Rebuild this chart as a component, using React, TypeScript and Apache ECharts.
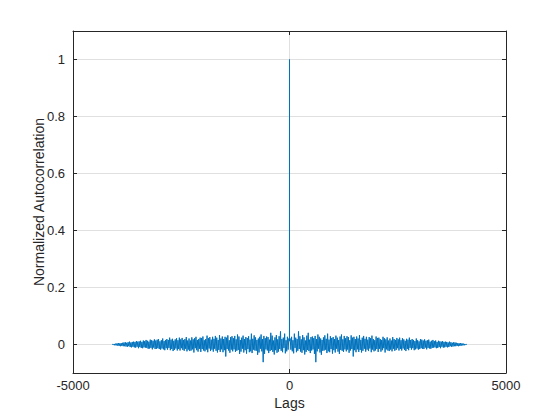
import React, { useEffect, useRef } from "react";
import * as echarts from "echarts";

// Lag step between stored samples (positive lags: step, 2*step, ...)
const lagStep = 16;
// Normalized autocorrelation at lag 0 and at lag 1
const peakValue = 1;
const lagOneValue = 0.012;
// Values read for positive lags (the autocorrelation is symmetric, negative lags mirror these)
const positiveLagValues: number[] = [
  0.021, -0.018, 0.027, -0.024, 0.015, -0.031, 0.038, -0.012, 0.024, -0.027, 0.019, -0.022, 0.046, -0.016, 0.029, -0.025,
  0.018, -0.029, 0.033, -0.02, 0.025, -0.035, 0.014, -0.026, 0.031, -0.019, 0.041, -0.023, 0.017, -0.03, 0.026, -0.021,
  0.028, -0.017, 0.022, -0.033, 0.03, -0.062, 0.019, -0.024, 0.035, -0.015, 0.027, -0.028, 0.021, -0.036, 0.016, -0.022,
  0.025, -0.021, 0.032, -0.018, 0.02, -0.03, 0.038, -0.024, 0.017, -0.027, 0.029, -0.016, 0.023, -0.032, 0.026, -0.02,
  0.019, -0.028, 0.031, -0.015, 0.024, -0.025, 0.016, -0.033, 0.028, -0.019, 0.035, -0.022, 0.018, -0.026, 0.03, -0.017,
  0.022, -0.024, 0.029, -0.018, 0.026, -0.029, 0.015, -0.021, 0.032, -0.016, 0.024, -0.042, 0.027, -0.02, 0.019, -0.027,
  0.028, -0.017, 0.021, -0.026, 0.033, -0.019, 0.016, -0.028, 0.024, -0.022, 0.03, -0.015, 0.02, -0.025, 0.027, -0.018,
  0.017, -0.023, 0.026, -0.014, 0.022, -0.027, 0.031, -0.018, 0.019, -0.024, 0.015, -0.021, 0.028, -0.016, 0.023, -0.026,
  0.024, -0.015, 0.019, -0.025, 0.016, -0.02, 0.027, -0.013, 0.022, -0.028, 0.018, -0.017, 0.025, -0.021, 0.014, -0.023,
  0.021, -0.018, 0.014, -0.024, 0.026, -0.015, 0.019, -0.022, 0.016, -0.019, 0.023, -0.013, 0.018, -0.021, 0.024, -0.016,
  0.015, -0.021, 0.022, -0.014, 0.018, -0.019, 0.013, -0.023, 0.02, -0.016, 0.017, -0.02, 0.024, -0.012, 0.016, -0.018,
  0.019, -0.013, 0.016, -0.02, 0.012, -0.017, 0.021, -0.014, 0.015, -0.018, 0.011, -0.016, 0.019, -0.013, 0.017, -0.015,
  0.014, -0.016, 0.018, -0.011, 0.013, -0.017, 0.015, -0.012, 0.017, -0.014, 0.01, -0.015, 0.013, -0.012, 0.016, -0.011,
  0.012, -0.01, 0.014, -0.013, 0.009, -0.012, 0.013, -0.009, 0.011, -0.013, 0.01, -0.008, 0.012, -0.011, 0.009, -0.01,
  0.01, -0.008, 0.009, -0.01, 0.007, -0.009, 0.01, -0.006, 0.008, -0.008, 0.006, -0.007, 0.008, -0.006, 0.007, -0.006,
  0.006, -0.005, 0.005, -0.006, 0.004, -0.005, 0.005, -0.004, 0.004, -0.003, 0.003, -0.003, 0.002, -0.002, 0.001, 0.0,
];

const xTicks = { min: -5000, max: 5000, interval: 5000 };
const yRange = { min: -0.1, max: 1.1, step: 0.2 };
const xName = "Lags";
const yName = "Normalized Autocorrelation";

const FONT = "'Liberation Sans', Arial, Helvetica, sans-serif";
const TEXT = "#262626";
const GRID = "#e0e0e0";
const LINE = "#0072BD";

function buildSeries(): [number, number][] {
  const out: [number, number][] = [];
  for (let j = positiveLagValues.length - 1; j >= 0; j--) {
    out.push([-(j + 1) * lagStep, positiveLagValues[j]]);
  }
  out.push([-1, lagOneValue]);
  out.push([0, peakValue]);
  out.push([1, lagOneValue]);
  for (let j = 0; j < positiveLagValues.length; j++) {
    out.push([(j + 1) * lagStep, positiveLagValues[j]]);
  }
  return out;
}

export default function App() {
  const ref = useRef<HTMLDivElement>(null);
  useEffect(() => {
    if (!ref.current) return;
    const chart = echarts.init(ref.current, undefined, { renderer: "svg" });
    const axisLine = { show: true, onZero: false, lineStyle: { color: TEXT, width: 1 } };
    const tick = { show: true, inside: true, length: 4, lineStyle: { color: TEXT, width: 1 } };
    const yCommon = {
      type: "value" as const,
      min: yRange.min,
      max: yRange.max,
      splitNumber: 6,
      minInterval: yRange.step,
      maxInterval: yRange.step,
    };
    chart.setOption({
      animation: false,
      backgroundColor: "#ffffff",
      grid: { left: 73, right: 54, top: 31, bottom: 47, containLabel: false, show: false },
      xAxis: [
        {
          type: "value",
          position: "bottom",
          min: xTicks.min,
          max: xTicks.max,
          interval: xTicks.interval,
          axisLine,
          axisTick: tick,
          axisLabel: {
            show: true,
            color: TEXT,
            fontSize: 13,
            fontFamily: FONT,
            margin: 6,
            formatter: (v: number) => String(v),
          },
          splitLine: { show: true, lineStyle: { color: GRID, width: 1 } },
          name: xName,
          nameLocation: "middle",
          nameGap: 23,
          nameMoveOverlap: false,
          nameTextStyle: { color: TEXT, fontSize: 14, fontFamily: FONT },
        },
        {
          type: "value",
          position: "top",
          min: xTicks.min,
          max: xTicks.max,
          interval: xTicks.interval,
          axisLine,
          axisTick: tick,
          axisLabel: { show: false },
          splitLine: { show: false },
        },
      ],
      yAxis: [
        {
          ...yCommon,
          position: "left",
          axisLine,
          axisTick: tick,
          axisLabel: {
            show: true,
            color: TEXT,
            fontSize: 13,
            fontFamily: FONT,
            margin: 8,
            showMinLabel: false,
            showMaxLabel: false,
            formatter: (v: number) => String(Math.round(v * 10) / 10),
          },
          splitLine: { show: true, lineStyle: { color: GRID, width: 1 } },
          name: yName,
          nameLocation: "middle",
          nameGap: 27,
          nameMoveOverlap: false,
          nameTextStyle: { color: TEXT, fontSize: 14, fontFamily: FONT },
        },
        {
          ...yCommon,
          position: "right",
          axisLine,
          axisTick: tick,
          axisLabel: { show: false },
          splitLine: { show: false },
        },
      ],
      series: [
        {
          type: "line",
          xAxisIndex: 0,
          yAxisIndex: 0,
          data: buildSeries(),
          showSymbol: false,
          symbol: "none",
          lineStyle: { color: LINE, width: 1 },
          emphasis: { disabled: true },
          silent: true,
        },
      ],
    });
    return () => chart.dispose();
  }, []);
  return (
    <div
      ref={ref}
      style={{ position: "fixed", left: 0, top: 0, width: 560, height: 420, background: "#fff" }}
    />
  );
}
